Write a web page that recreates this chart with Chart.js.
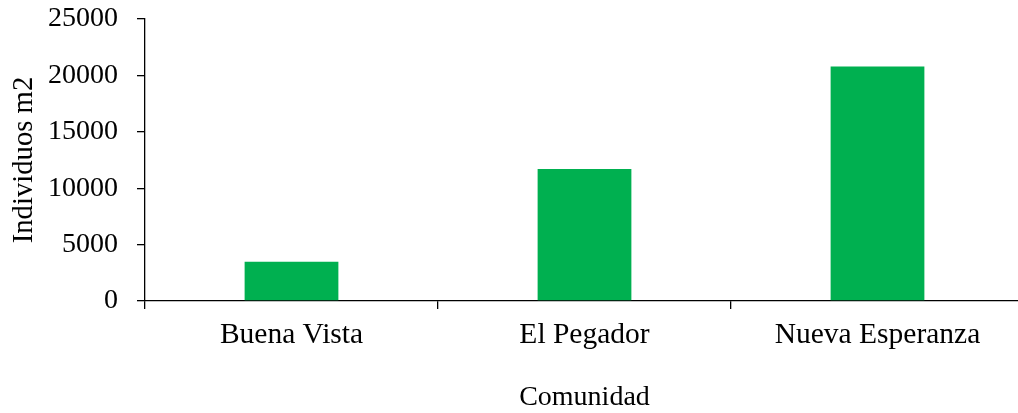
<!DOCTYPE html>
<html>
<head>
<meta charset="utf-8">
<script src="https://cdn.jsdelivr.net/npm/chart.js@4"></script>
<style>
  html, body { margin: 0; padding: 0; background: #fff; overflow: hidden; }
  #wrap { width: 1024px; height: 413px; }
</style>
</head>
<body>
<div id="wrap"><canvas id="chart"></canvas></div>
<script>
const comunidades = ["Buena Vista", "El Pegador", "Nueva Esperanza"];
const individuos = [3480, 11700, 20800];
const yTicks = [0, 5000, 10000, 15000, 20000, 25000];

const serif = "'Liberation Serif', 'Times New Roman', serif";
const ctx = document.getElementById('chart').getContext('2d');

let chart = new Chart(ctx, {
  type: 'bar',
  data: {
    labels: comunidades,
    datasets: [{
      data: individuos,
      backgroundColor: '#00B050',
      borderWidth: 0,
      categoryPercentage: 1,
      barPercentage: 0.32
    }]
  },
  options: {
    responsive: true,
    maintainAspectRatio: false,
    animation: false,
    layout: { padding: { top: 19, right: 0, left: 0, bottom: 0 } },
    plugins: {
      legend: { display: false },
      tooltip: { enabled: false }
    },
    scales: {
      x: {
        grid: {
          display: true,
          drawOnChartArea: false,
          offset: true,
          color: '#000',
          lineWidth: 1.3,
          tickLength: 8
        },
        border: { color: '#000', width: 1.3 },
        ticks: {
          color: '#000',
          font: { family: serif, size: 29.5 },
          padding: 9,
          maxRotation: 0
        },
        title: {
          display: true,
          text: 'Comunidad',
          color: '#000',
          font: { family: serif, size: 28, lineHeight: 1.1 },
          padding: { top: 0, bottom: 0 }
        },
        afterFit: function(scale) { scale.height = 112; }
      },
      y: {
        min: 0,
        max: 25000,
        afterBuildTicks: function(scale) {
          scale.ticks = yTicks.map(v => ({ value: v }));
        },
        grid: {
          display: true,
          drawOnChartArea: false,
          color: '#000',
          lineWidth: 1.3,
          tickLength: 8
        },
        border: { color: '#000', width: 1.3 },
        ticks: {
          color: '#000',
          font: { family: serif, size: 28 },
          padding: 19,
          callback: v => String(v)
        },
        title: {
          display: true,
          text: 'Individuos m2',
          color: '#000',
          font: { family: serif, size: 28.7, lineHeight: 1.2 },
          padding: { top: 7, bottom: 0 }
        },
        afterFit: function(scale) {
          scale.width = 145;
          scale.paddingTop = 0;
          scale.paddingBottom = 0;
        }
      }
    }
  }
});
</script>
</body>
</html>
